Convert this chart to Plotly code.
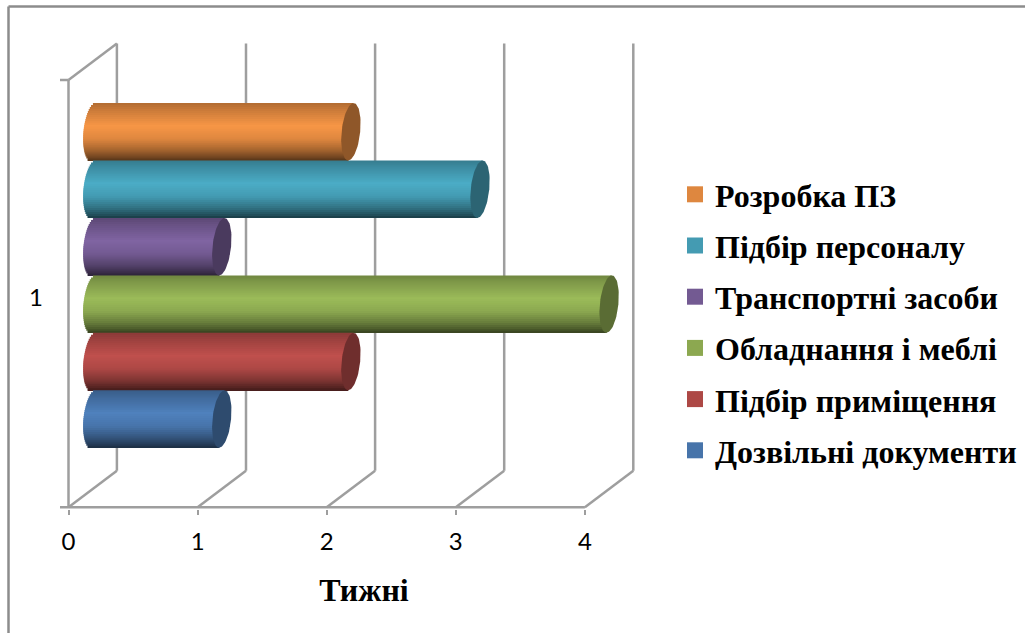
import numpy as np
import plotly.graph_objects as go

# Weeks per stage, listed in legend order (top to bottom)
series_names = ["Розробка ПЗ", "Підбір персоналу", "Транспортні засоби",
                "Обладнання і меблі", "Підбір приміщення", "Дозвільні документи"]
weeks = [2, 3, 1, 4, 2, 1]
base_colors = [(247, 150, 70), (75, 172, 198), (128, 100, 162),
               (155, 187, 89), (192, 80, 77), (79, 129, 189)]
x_ticks = [0, 1, 2, 3, 4]
category_label = "1"
x_title = "Тижні"

W, H = 1033, 638
X0_PX, X_UNIT_PX = 68.5, 129.1      # pixel of week 0, pixels per week
Y0_PX, Y_UNIT_PX = 507.3, 427.3     # pixel of the floor, pixels per category band
WALL_DX, WALL_DY = 48.4 / X_UNIT_PX, 36.5 / Y_UNIT_PX   # depth of the 3D box
MID_DX, MID_DY = WALL_DX / 2, WALL_DY / 2                # cylinders sit mid-depth

# Axis extents; wider than the box so tick stubs are not clipped and the
# axis title centres under the whole chart
PLOT_LEFT_PX, PLOT_RIGHT_PX = 58.0, 670.0
PLOT_TOP_PX, PLOT_BOTTOM_PX = 40.0, 509.3
X_RANGE = [(PLOT_LEFT_PX - X0_PX) / X_UNIT_PX, (PLOT_RIGHT_PX - X0_PX) / X_UNIT_PX]
Y_RANGE = [(Y0_PX - PLOT_BOTTOM_PX) / Y_UNIT_PX, (Y0_PX - PLOT_TOP_PX) / Y_UNIT_PX]

GAP = 41.3 / Y_UNIT_PX
BAR_H = (1 - 2 * GAP) / len(weeks)
CAP_A = 9.3 / X_UNIT_PX              # horizontal semi-axis of the end caps
CAP_SHEAR = 2.75 / X_UNIT_PX         # lean of the ellipse from the perspective
N_STRIPS = 29
STUB = 8.5 / X_UNIT_PX

# Brightness across the cylinder, from its top edge (-1) to its bottom edge (1)
SHADE_T = [-1.0, -0.75, -0.2, 0.25, 0.65, 0.9, 1.0]
SHADE_K = [0.72, 0.82, 1.00, 0.90, 0.66, 0.45, 0.34]
GRID = "#9e9e9e"


def rgb(color, k):
    return "rgb(%d,%d,%d)" % tuple(min(255, int(round(c * k))) for c in color)


fig = go.Figure()
count = len(weeks)

for i, (name, value, color) in enumerate(zip(series_names, weeks, base_colors)):
    center = GAP + BAR_H * (count - i - 0.5) + MID_DY
    edges = np.linspace(-1, 1, N_STRIPS + 1)
    t = (edges[:-1] + edges[1:]) / 2                # -1 top .. 1 bottom
    bulge = CAP_A * np.sqrt(1 - t ** 2)
    # Each strip runs under the next one so no seams show between them
    strip_h = BAR_H / N_STRIPS
    heights = np.full(N_STRIPS, 2 * strip_h)
    heights[-1] = strip_h
    tops = center - edges[:-1] * BAR_H / 2
    narrow = np.minimum(bulge, np.append(bulge[1:], bulge[-1]))
    starts = MID_DX - CAP_SHEAR * t - narrow
    ends = value + MID_DX - CAP_SHEAR * t

    # Square marker that carries the legend entry; the cap below hides it
    fig.add_trace(go.Scatter(
        x=[value + MID_DX], y=[center], mode="markers", name=name,
        legendgroup=name, showlegend=True, hoverinfo="skip",
        marker=dict(symbol="square", size=16, color=rgb(color, 0.9)),
    ))
    # Body of the cylinder: thin horizontal strips, lighter near the upper middle
    fig.add_trace(go.Bar(
        orientation="h", y=tops - heights / 2, x=ends - starts, base=starts,
        width=heights, showlegend=False, hoverinfo="skip",
        marker=dict(color=[rgb(color, k) for k in np.interp(t, SHADE_T, SHADE_K)],
                    line=dict(width=0)),
    ))
    # Flat end cap, leaning with the depth of the box
    theta = np.linspace(0, 2 * np.pi, 73)
    fig.add_trace(go.Scatter(
        x=value + MID_DX + CAP_A * np.cos(theta) + CAP_SHEAR * np.sin(theta),
        y=center + BAR_H / 2 * np.sin(theta),
        mode="lines", fill="toself", fillcolor=rgb(color, 0.58),
        line=dict(width=0, color=rgb(color, 0.58)),
        showlegend=False, hoverinfo="skip",
    ))

# Box of the 3D chart: floor, gridlines on the back wall and the depth edges
grid = dict(type="line", xref="x", yref="y", layer="below",
            line=dict(color=GRID, width=2.5))
shapes = [dict(grid, x0=-STUB, x1=x_ticks[-1], y0=0, y1=0),
          dict(grid, x0=0, x1=0, y0=0, y1=1),
          dict(grid, x0=0, x1=WALL_DX, y0=1, y1=1 + WALL_DY),
          dict(grid, x0=-STUB, x1=0, y0=1, y1=1)]
for tick in x_ticks:
    shapes += [dict(grid, x0=tick, x1=tick + WALL_DX, y0=0, y1=WALL_DY),
               dict(grid, x0=tick + WALL_DX, x1=tick + WALL_DX, y0=WALL_DY, y1=1 + WALL_DY)]

# Outer frame of the chart, open on the right and at the bottom
frame = dict(type="line", xref="paper", yref="paper", layer="below",
             line=dict(color="#8c8c8c", width=2.5))
shapes += [dict(frame, x0=8.5 / W, x1=1 - 8 / W, y0=1 - 6.5 / H, y1=1 - 6.5 / H),
           dict(frame, x0=8.5 / W, x1=8.5 / W, y0=1 - 6.5 / H, y1=1 - 633 / H)]

fig.update_layout(
    template="none",
    width=W, height=H, margin=dict(l=0, r=0, t=0, b=0),
    paper_bgcolor="white", plot_bgcolor="rgba(0,0,0,0)",
    barmode="overlay", shapes=shapes, showlegend=True,
    legend=dict(x=675 / W, xanchor="left", y=1 - 167 / H, yanchor="top",
                traceorder="grouped", tracegroupgap=6.6, itemsizing="trace",
                font=dict(family="Liberation Serif", size=32, color="black", weight="bold"),
                bgcolor="rgba(0,0,0,0)", borderwidth=0),
    xaxis=dict(domain=[PLOT_LEFT_PX / W, PLOT_RIGHT_PX / W],
               range=X_RANGE, tickvals=x_ticks, showgrid=False, zeroline=False,
               automargin=False, showline=False,
               ticks="outside", ticklen=5, tickwidth=2, tickcolor=GRID,
               ticklabelstandoff=6,
               tickfont=dict(family="Lato", size=24, color="black"),
               title=dict(text=x_title, standoff=24,
                          font=dict(family="Liberation Serif", size=32, color="black",
                                    weight="bold"))),
    yaxis=dict(domain=[1 - PLOT_BOTTOM_PX / H, 1 - PLOT_TOP_PX / H],
               range=Y_RANGE, tickvals=[0.5 - 3.5 / Y_UNIT_PX], ticktext=[category_label],
               showgrid=False, zeroline=False, ticks="", automargin=False, showline=False,
               ticklabelstandoff=14,
               tickfont=dict(family="Lato", size=24, color="black")),
)

fig.write_html("out.html")
